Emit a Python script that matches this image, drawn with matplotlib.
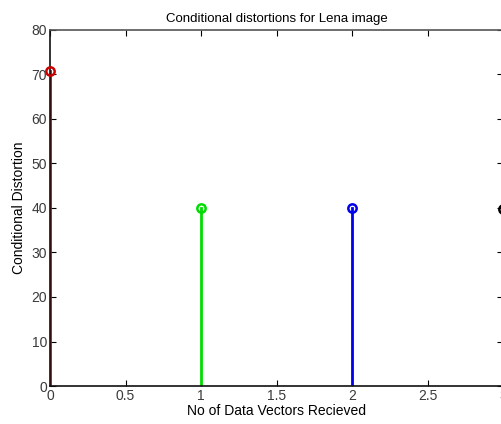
import numpy as np
import matplotlib.pyplot as plt

plt.rcParams['font.family'] = ['Liberation Sans', 'DejaVu Sans']

# data
vectors = [0, 1, 2, 3]
distortion = [70.7, 40.0, 40.1, 39.7]
colours = ['#cc0000', '#00dd00', '#0000ee', 'black']
x_ticks = [0, 0.5, 1, 1.5, 2, 2.5, 3]
x_ticklabels = ['0', '0.5', '1', '1.5', '2', '2.5', '3']
y_ticks = [0, 10, 20, 30, 40, 50, 60, 70, 80]

fig = plt.figure(figsize=(5.01, 4.24), dpi=100)
# axes run a little past the right edge, like the cropped original
ax = fig.add_axes([50/501, 38/424, 453/501, 356/424])

for xv, yv, c in zip(vectors, distortion, colours):
    ax.plot([xv, xv], [0, yv], color=c, lw=2, zorder=3)
    ax.plot(xv, yv, 'o', mfc='none', mec=c, ms=6, mew=1.8, clip_on=False, zorder=6)

ax.set_xlim(0, 3)
ax.set_ylim(0, 80)
ax.set_xticks(x_ticks)
ax.set_xticklabels(x_ticklabels)
ax.set_yticks(y_ticks)
ax.tick_params(direction='in', top=True, right=True, length=4, labelsize=10,
               labelcolor='#3a3a3a', pad=2)
# axis lines sit on top of the stems (the red stem hides behind the y axis)
for s in ax.spines.values():
    s.set_linewidth(1.2)
    s.set_color('#111111')
    s.set_zorder(5)
ax.spines['top'].set_color('#555555')

ax.set_title('Conditional distortions for Lena image', fontsize=9.5, pad=6)
ax.set_xlabel('No of Data Vectors Recieved', fontsize=10, labelpad=1)
ax.set_ylabel('Conditional Distortion', fontsize=10, labelpad=4)

fig.savefig('out.png', dpi=100)
